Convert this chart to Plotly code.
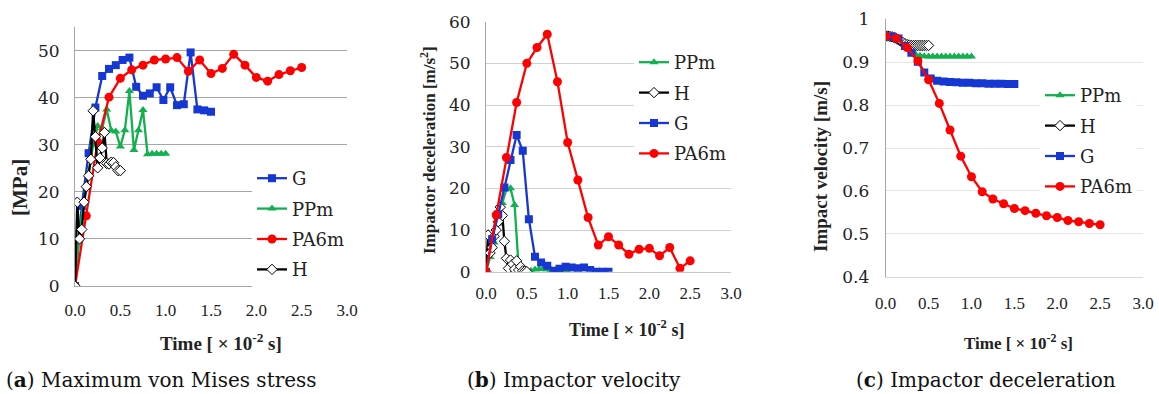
import plotly.graph_objects as go

# ---------------- data ----------------
# (a) Maximum von Mises stress [MPa]
A_T_G = [0.0, 0.075, 0.15, 0.225, 0.3, 0.375, 0.45, 0.525, 0.6, 0.675, 0.75, 0.825, 0.9, 0.975, 1.05, 1.125, 1.2, 1.275, 1.35, 1.425, 1.5]
A_G = [0, 17, 28.2, 37.9, 44.6, 46.1, 46.9, 48.0, 48.5, 42.3, 40.4, 40.9, 42.2, 39.5, 42.2, 38.4, 38.6, 49.6, 37.5, 37.3, 37.0]
A_T_PP = [0.0, 0.05, 0.1, 0.15, 0.2, 0.25, 0.3, 0.35, 0.4, 0.45, 0.5, 0.55, 0.6, 0.65, 0.7, 0.75, 0.8, 0.85, 0.9, 0.95, 1.0]
A_PP = [0, 12, 18, 24, 30, 34, 33.5, 37.5, 33, 32.8, 29.6, 33.1, 41.4, 28.9, 33.1, 37.4, 28.0, 28.1, 28.1, 28.1, 28.1]
A_T_PA = [0.0, 0.125, 0.25, 0.375, 0.5, 0.625, 0.75, 0.875, 1.0, 1.125, 1.25, 1.375, 1.5, 1.625, 1.75, 1.875, 2.0, 2.125, 2.25, 2.375, 2.5]
A_PA = [0, 14.9, 30.6, 40.1, 44.1, 45.9, 46.9, 48.0, 48.2, 48.5, 45.6, 48.0, 45.1, 46.2, 49.2, 46.9, 44.3, 43.5, 44.9, 45.7, 46.4]
A_T_H = [0.0, 0.025, 0.05, 0.075, 0.1, 0.125, 0.15, 0.175, 0.2, 0.225, 0.25, 0.275, 0.3, 0.325, 0.35, 0.375, 0.4, 0.425, 0.45, 0.475, 0.5]
A_H = [0, 17.8, 10, 12, 17.8, 21.1, 23.4, 26.9, 37.2, 31.7, 25.1, 27.2, 29.3, 32.6, 26.0, 25.9, 26.3, 26.2, 25.3, 24.5, 24.5]

# (b) Impactor deceleration [m/s2]
B_PP = [0, 3.5, 7, 11.5, 16.5, 19.8, 20, 16, 1.0, 0.2, 0, 0.2, 0.5, 0.6, 0.7, 0.5, 0.4, 0.3, 0.2, 0.1, 0]
B_H = [0, 8.8, 4.5, 5.8, 8.5, 10, 12, 15.5, 13.5, 7.3, 3.2, 0.8, 2.8, 1.8, 0.6, 2.6, 0.4, 1.2, 0.2, 0.1, 0]
B_G = [0, 7.8, 13.8, 20.2, 26.8, 32.8, 29.0, 12.6, 3.6, 2.2, 1.4, 0.2, 0.7, 1.2, 1.0, 0.8, 1.0, 0.4, 0, 0, 0]
B_PA = [0, 13.6, 27.4, 40.6, 50.0, 53.8, 57.0, 45.6, 31.0, 22.0, 13.0, 6.4, 8.4, 6.4, 4.2, 5.4, 5.6, 3.8, 5.8, 0.8, 2.6]

# (c) Impact velocity [m/s]
C_PP = [0.961, 0.960, 0.958, 0.952, 0.944, 0.934, 0.925, 0.918, 0.915, 0.914, 0.913, 0.913, 0.913, 0.913, 0.913, 0.913, 0.913, 0.913, 0.913, 0.913, 0.913]
C_H = [0.961, 0.961, 0.960, 0.959, 0.957, 0.955, 0.952, 0.949, 0.946, 0.943, 0.941, 0.940, 0.939, 0.939, 0.939, 0.939, 0.939, 0.939, 0.939, 0.939, 0.939]
C_G = [0.961, 0.960, 0.955, 0.938, 0.922, 0.901, 0.876, 0.862, 0.857, 0.855, 0.854, 0.853, 0.852, 0.852, 0.851, 0.851, 0.850, 0.850, 0.850, 0.849, 0.849]
C_PA = [0.961, 0.956, 0.934, 0.903, 0.859, 0.804, 0.742, 0.681, 0.633, 0.598, 0.581, 0.570, 0.559, 0.554, 0.548, 0.542, 0.538, 0.531, 0.528, 0.524, 0.521]

X_TICKS = [0.0, 0.5, 1.0, 1.5, 2.0, 2.5, 3.0]
X_TICK_TEXT = ["0.0", "0.5", "1.0", "1.5", "2.0", "2.5", "3.0"]

# ---------------- styles ----------------
BLUE = "#1737D2"
GREEN = "#12B04E"
RED = "#FF0000"
BLACK = "#000000"
W, H = 1159, 394
SERIF_H = "DejaVu Serif"
SERIF_V = "Liberation Serif"

STYLE = {
    "G": dict(color=BLUE, symbol="square", size=8),
    "PPm": dict(color=GREEN, symbol="triangle-up", size=8),
    "PA6m": dict(color=RED, symbol="circle", size=9),
    "H": dict(color=BLACK, symbol="diamond", size=8),
}

fig = go.Figure()


def add(name, t, v, ax, legend):
    s = STYLE[name]
    if name == "H":
        marker = dict(symbol=s["symbol"], size=s["size"], color="white",
                      line=dict(color="black", width=1))
    else:
        marker = dict(symbol=s["symbol"], size=s["size"], color=s["color"],
                      line=dict(width=0))
    fig.add_trace(go.Scatter(
        x=t, y=v, name=name, mode="lines+markers",
        line=dict(color=s["color"], width=2.3),
        marker=marker, xaxis="x" + ax, yaxis="y" + ax,
        legend=legend, legendgroup=legend + name, showlegend=True,
    ))


# panel (a)
add("G", A_T_G, A_G, "", "legend")
add("PPm", A_T_PP, A_PP, "", "legend")
add("PA6m", A_T_PA, A_PA, "", "legend")
add("H", A_T_H, A_H, "", "legend")
# panel (b)
add("PPm", A_T_PP, B_PP, "2", "legend2")
add("H", A_T_H, B_H, "2", "legend2")
add("G", A_T_G, B_G, "2", "legend2")
add("PA6m", A_T_PA, B_PA, "2", "legend2")
# panel (c)
add("PPm", A_T_PP, C_PP, "3", "legend3")
add("H", A_T_H, C_H, "3", "legend3")
add("G", A_T_G, C_G, "3", "legend3")
add("PA6m", A_T_PA, C_PA, "3", "legend3")


def px_x(p):
    return p / W


def px_y(p):
    return 1 - p / H


def xaxis(x0, x1, anchor, linecolor, standoff):
    return dict(domain=[px_x(x0), px_x(x1)], anchor=anchor, range=[0, 3.0],
                tickvals=X_TICKS, ticktext=X_TICK_TEXT, showgrid=False,
                zeroline=False, showline=True, linecolor=linecolor, linewidth=1,
                ticks="", ticklabelstandoff=standoff,
                tickfont=dict(family=SERIF_V, size=17, color="#222"))


def yaxis(y0, y1, rng, dtick, anchor, gridcolor, fmt, standoff):
    return dict(domain=[px_y(y0), px_y(y1)], anchor=anchor, range=rng, dtick=dtick,
                tick0=rng[0], showgrid=True, gridcolor=gridcolor, gridwidth=1,
                zeroline=False, showline=True, linecolor="#A6A6A6", linewidth=1,
                ticks="", tickformat=fmt, ticklabelstandoff=standoff,
                tickfont=dict(family=SERIF_H, size=17, color="#222"))


leg_common = dict(bgcolor="white", borderwidth=0, traceorder="grouped",
                  tracegroupgap=4, xanchor="left", yanchor="top",
                  font=dict(family=SERIF_H, size=18, color="#222"),
                  itemwidth=30)

fig.update_layout(
    width=W, height=H, margin=dict(l=0, r=0, t=0, b=0, autoexpand=False),
    paper_bgcolor="white", plot_bgcolor="white",
    xaxis=xaxis(75, 347, "y", "#A6A6A6", 9),
    yaxis=yaxis(286, 27, [0, 55], 10, "x", "#A6A6A6", "d", 11),
    xaxis2=xaxis(486, 731, "y2", "#C8C8C8", 6),
    yaxis2=yaxis(271.7, 21.7, [0, 60], 10, "x2", "#D0D0D0", "d", 11),
    xaxis3=xaxis(885.7, 1143, "y3", "#D9D9D9", 11),
    yaxis3=yaxis(276.7, 19.3, [0.4, 1.0], 0.1, "x3", "#E6E6E6", "~g", 12),
    legend=dict(x=px_x(252), y=px_y(160), **leg_common),
    legend2=dict(x=px_x(634), y=px_y(44), **leg_common),
    legend3=dict(x=px_x(1040), y=px_y(77), **leg_common),
    showlegend=True,
)

ann = []
# y-axis titles (rotated)
for cx, cy, txt, fs in [(20, 188, "<b>[MPa]</b>", 21),
                        (428, 150, "<b>Impactor deceleration [m/s<sup>2</sup>]</b>", 17),
                        (820, 167, "<b>Impact velocity [m/s]</b>", 19)]:
    ann.append(dict(text=txt, x=px_x(cx), y=px_y(cy), textangle=-90,
                    xref="paper", yref="paper", showarrow=False, xanchor="center", yanchor="middle",
                    font=dict(family=SERIF_V, size=fs, color="#222")))
# x-axis titles
for cx, cy, fs in [(221, 342, 19), (626, 328, 18), (1018, 342, 17)]:
    ann.append(dict(text="<b>Time [ × 10<sup>-2</sup> s]</b>", x=px_x(cx), y=px_y(cy),
                    xref="paper", yref="paper", showarrow=False, xanchor="center", yanchor="middle",
                    font=dict(family=SERIF_V, size=fs, color="#222")))
# captions
for cx, txt in [(161, "(<b>a</b>) Maximum von Mises stress"),
                (574, "(<b>b</b>) Impactor velocity"),
                (986, "(<b>c</b>) Impactor deceleration")]:
    ann.append(dict(text=txt, x=px_x(cx), y=px_y(380), xref="paper", yref="paper",
                    showarrow=False, xanchor="center", yanchor="middle",
                    font=dict(family=SERIF_H, size=20, color="#111")))
fig.update_layout(annotations=ann)

fig.write_html("out.html")
